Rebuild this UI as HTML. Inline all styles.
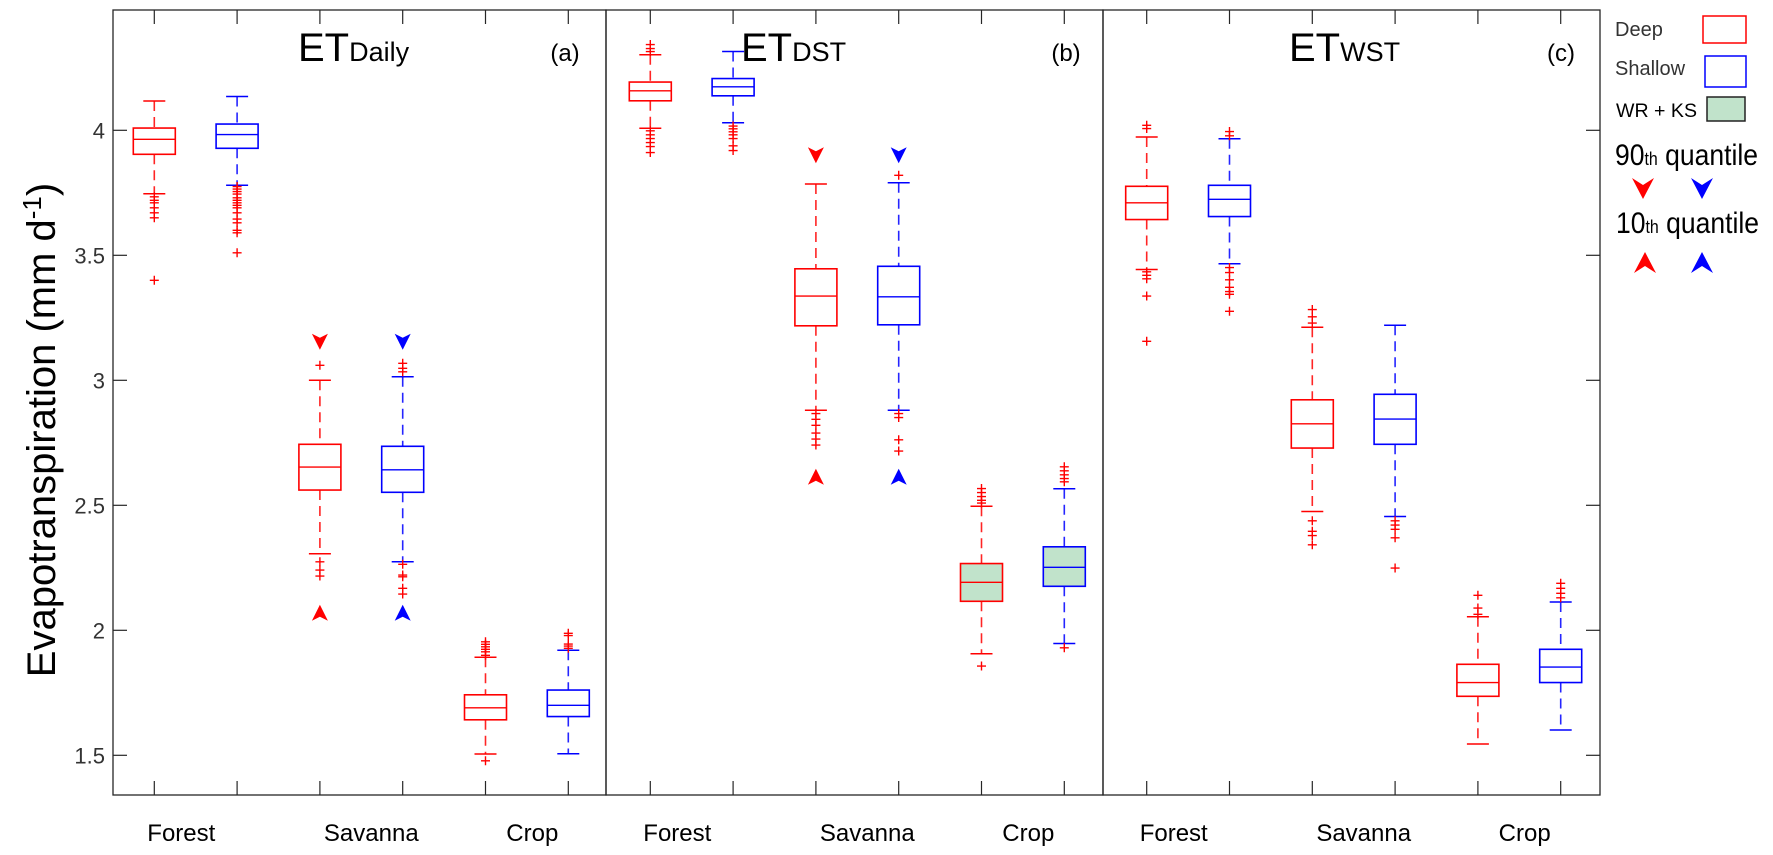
<!DOCTYPE html>
<html><head><meta charset="utf-8"><style>
html,body{margin:0;padding:0;background:#fff;}
svg{display:block;font-family:"Liberation Sans",sans-serif;}
</style></head><body>
<svg id="chart" width="1773" height="855" viewBox="0 0 1773 855" xmlns="http://www.w3.org/2000/svg">
<rect width="1773" height="855" fill="#fff"/>
<g id="marks"></g>
<g id="axes"></g>
<text transform="translate(55,430) rotate(-90)" text-anchor="middle" font-size="40" fill="#000">Evapotranspiration (mm d<tspan font-size="26" dy="-14">-1</tspan><tspan dy="14">)</tspan></text>
<g>
<text x="1615" y="36" font-size="20" fill="#333">Deep</text>
<rect x="1703" y="16" width="43" height="27" fill="none" stroke="#ff0000" stroke-width="1.5"/>
<text x="1615" y="75" font-size="20" fill="#333">Shallow</text>
<rect x="1705" y="56" width="41" height="31" fill="none" stroke="#0000ff" stroke-width="1.5"/>
<text x="1616" y="117" font-size="19" fill="#000" textLength="81" lengthAdjust="spacingAndGlyphs">WR + KS</text>
<rect x="1707" y="97" width="38" height="24" fill="#c1e3cb" stroke="#222" stroke-width="1.5"/>
<text x="1615" y="165" font-size="30" fill="#000" textLength="143" lengthAdjust="spacingAndGlyphs">90<tspan font-size="18">th</tspan> quantile</text>
<polygon points="1632,178 1643,185 1654,178 1643,199" fill="#ff0000"/>
<polygon points="1691,178 1702,185 1713,178 1702,199" fill="#0000ff"/>
<text x="1616" y="233" font-size="30" fill="#000" textLength="143" lengthAdjust="spacingAndGlyphs">10<tspan font-size="18">th</tspan> quantile</text>
<polygon points="1634,273 1645,266 1656,273 1645,252" fill="#ff0000"/>
<polygon points="1691,273 1702,266 1713,273 1702,252" fill="#0000ff"/>
</g>
</svg>
<script>
// ---- data (order: Forest-Deep, Forest-Shallow, Savanna-Deep, Savanna-Shallow, Crop-Deep, Crop-Shallow)
const panelNames = ["daily", "dst", "wst"];
const categories = ["Forest", "Savanna", "Crop"];
const yTicks = [1.5, 2, 2.5, 3, 3.5, 4];
const yTickLabels = ["1.5", "2", "2.5", "3", "3.5", "4"];

const aLow = [3.746, 3.78, 2.306, 2.274, 1.505, 1.506];
const aQ1 = [3.904, 3.928, 2.561, 2.552, 1.642, 1.655];
const aMed = [3.964, 3.983, 2.653, 2.642, 1.690, 1.700];
const aQ3 = [4.009, 4.025, 2.744, 2.736, 1.742, 1.761];
const aHigh = [4.117, 4.135, 3.00, 3.014, 1.892, 1.92];
const aOut = [
  [3.734, 3.72, 3.71, 3.69, 3.67, 3.65, 3.40],
  [3.775, 3.765, 3.755, 3.745, 3.73, 3.72, 3.71, 3.70, 3.69, 3.67, 3.645, 3.63, 3.60, 3.59, 3.51],
  [3.06, 2.274, 2.241, 2.217],
  [3.068, 3.048, 3.034, 2.264, 2.221, 2.214, 2.168, 2.145],
  [1.954, 1.944, 1.934, 1.924, 1.914, 1.90, 1.478],
  [1.988, 1.979, 1.945, 1.937, 1.928]
];
const bLow = [4.008, 4.03, 2.88, 2.88, 1.906, 1.947];
const bQ1 = [4.118, 4.138, 3.218, 3.222, 2.116, 2.176];
const bMed = [4.158, 4.174, 3.337, 3.334, 2.192, 2.252];
const bQ3 = [4.193, 4.207, 3.446, 3.456, 2.267, 2.334];
const bHigh = [4.302, 4.315, 3.785, 3.79, 2.496, 2.566];
const bOut = [
  [4.343, 4.327, 4.315, 3.998, 3.982, 3.967, 3.951, 3.935, 3.911],
  [4.017, 4.006, 3.994, 3.982, 3.967, 3.938, 3.919],
  [2.867, 2.844, 2.82, 2.789, 2.765, 2.741],
  [3.82, 2.867, 2.851, 2.762, 2.717],
  [2.567, 2.551, 2.535, 2.52, 2.509, 1.857],
  [2.654, 2.638, 2.622, 2.607, 2.594, 1.93]
];
const cLow = [3.443, 3.466, 2.475, 2.455, 1.545, 1.601];
const cQ1 = [3.643, 3.655, 2.729, 2.744, 1.736, 1.791];
const cMed = [3.71, 3.724, 2.826, 2.845, 1.791, 1.853];
const cQ3 = [3.776, 3.78, 2.922, 2.944, 1.864, 1.924];
const cHigh = [3.973, 3.966, 3.212, 3.22, 2.054, 2.113];
const cOut = [
  [4.02, 4.007, 3.434, 3.42, 3.406, 3.337, 3.156],
  [3.995, 3.978, 3.451, 3.431, 3.402, 3.372, 3.355, 3.344, 3.276],
  [3.283, 3.254, 3.229, 2.438, 2.396, 2.379, 2.342],
  [2.438, 2.421, 2.404, 2.37, 2.249],
  [2.14, 2.089, 2.064],
  [2.188, 2.168, 2.148, 2.13]
];
const q90a = [3.154, 3.154];  // savanna deep, shallow
const q10a = [2.07, 2.07];
const q90b = [3.90, 3.90];
const q10b = [2.614, 2.614];

// ---- layout
const NS = "http://www.w3.org/2000/svg";
const plotTop = 10, plotBottom = 795;
const panelLeft = [113, 606, 1103], panelRight = [606, 1103, 1600];
const firstTick = [154.3, 650.3, 1146.7], step = 82.8;
const y = v => 130.3 + (4 - v) * 250;
const x = (p, i) => firstTick[p] + i * step;
const colors = ["#ff0000", "#0000ff"];
const marks = document.getElementById("marks");
const axes = document.getElementById("axes");
function mk(tag, attrs, parent) {
  const e = document.createElementNS(NS, tag);
  for (const k in attrs) e.setAttribute(k, attrs[k]);
  (parent || marks).appendChild(e);
  return e;
}
const panels = [
  {low: aLow, q1: aQ1, med: aMed, q3: aQ3, high: aHigh, out: aOut, q90: q90a, q10: q10a, fillCrop: false},
  {low: bLow, q1: bQ1, med: bMed, q3: bQ3, high: bHigh, out: bOut, q90: q90b, q10: q10b, fillCrop: true},
  {low: cLow, q1: cQ1, med: cMed, q3: cQ3, high: cHigh, out: cOut, q90: null, q10: null, fillCrop: false}
];
const boxW = 42, capW = 22, plus = 4.5;
panels.forEach((P, p) => {
  const g = mk("g", {});
  
  
  for (let i = 0; i < 6; i++) {
    const cx = x(p, i), col = colors[i % 2];
    const yHi = y(P.high[i]), yQ3 = y(P.q3[i]), yMed = y(P.med[i]), yQ1 = y(P.q1[i]), yLo = y(P.low[i]);
    const bg = mk("g", {}, g);
    
    
    mk("line", {x1: cx, x2: cx, y1: yHi, y2: yQ3, stroke: col, "stroke-width": 1.6, "stroke-dasharray": "10 6", opacity: 0.85}, bg);
    mk("line", {x1: cx, x2: cx, y1: yQ1, y2: yLo, stroke: col, "stroke-width": 1.6, "stroke-dasharray": "10 6", opacity: 0.85}, bg);
    mk("line", {x1: cx - capW / 2, x2: cx + capW / 2, y1: yHi, y2: yHi, stroke: col, "stroke-width": 1.5}, bg);
    mk("line", {x1: cx - capW / 2, x2: cx + capW / 2, y1: yLo, y2: yLo, stroke: col, "stroke-width": 1.5}, bg);
    const fill = (P.fillCrop && i >= 4) ? "#c1e3cb" : "none";
    mk("rect", {x: cx - boxW / 2, y: yQ3, width: boxW, height: yQ1 - yQ3, fill: fill, stroke: col, "stroke-width": 1.6}, bg);
    mk("line", {x1: cx - boxW / 2, x2: cx + boxW / 2, y1: yMed, y2: yMed, stroke: col, "stroke-width": 1.4}, bg);
    P.out[i].forEach(v => {
      const oy = y(v);
      mk("path", {d: `M${cx - plus},${oy}H${cx + plus}M${cx},${oy - plus}V${oy + plus}`, stroke: "#ff0000", "stroke-width": 1.4, fill: "none"}, bg);
    });
  }
  if (P.q90) {
    for (let j = 0; j < 2; j++) {
      const cx = x(p, 2 + j), col = colors[j];
      const ty = y(P.q90[j]);
      const t1 = mk("polygon", {points: `${cx - 8},${ty - 8} ${cx},${ty - 4} ${cx + 8},${ty - 8} ${cx},${ty + 8}`, fill: col}, g);
      
      
      const by = y(P.q10[j]);
      const t2 = mk("polygon", {points: `${cx - 8},${by + 8} ${cx},${by + 4} ${cx + 8},${by + 8} ${cx},${by - 8}`, fill: col}, g);
      
      
    }
  }
  const fr = mk("rect", {x: panelLeft[p], y: plotTop, width: panelRight[p] - panelLeft[p], height: plotBottom - plotTop, fill: "none", stroke: "#262626", "stroke-width": 1.3}, axes);
  
  
  for (let i = 0; i < 6; i++) {
    const tx = x(p, i);
    mk("line", {x1: tx, x2: tx, y1: plotBottom, y2: plotBottom - 14, stroke: "#262626", "stroke-width": 1.2}, axes);
    mk("line", {x1: tx, x2: tx, y1: plotTop, y2: plotTop + 14, stroke: "#262626", "stroke-width": 1.2}, axes);
  }
  const catOff = [27, 217, 378];
  categories.forEach((c, k) => {
    const t = mk("text", {x: firstTick[p] + catOff[k], y: 841, "font-size": 24, "text-anchor": "middle", fill: "#000"}, axes);
    t.textContent = c;
    
    
  });
});
yTicks.forEach((v, k) => {
  mk("line", {x1: 113, x2: 127, y1: y(v), y2: y(v), stroke: "#262626", "stroke-width": 1.2}, axes);
  mk("line", {x1: 1586, x2: 1600, y1: y(v), y2: y(v), stroke: "#262626", "stroke-width": 1.2}, axes);
  const t = mk("text", {x: 105, y: y(v) + 8, "font-size": 22, "text-anchor": "end", fill: "#333"}, axes);
  t.textContent = yTickLabels[k];
  
  
});
const titles = [["Daily", 298, "(a)", 565], ["DST", 741, "(b)", 1066], ["WST", 1289, "(c)", 1561]];
titles.forEach((T, p) => {
  const t = mk("text", {x: T[1], y: 61, "font-size": 40, fill: "#000"}, axes);
  
  
  t.innerHTML = 'ET<tspan font-size="27">' + T[0] + '</tspan>';
  const l = mk("text", {x: T[3], y: 61, "font-size": 24, "text-anchor": "middle", fill: "#000"}, axes);
  l.textContent = T[2];
  
  
});
</script>
</body></html>
